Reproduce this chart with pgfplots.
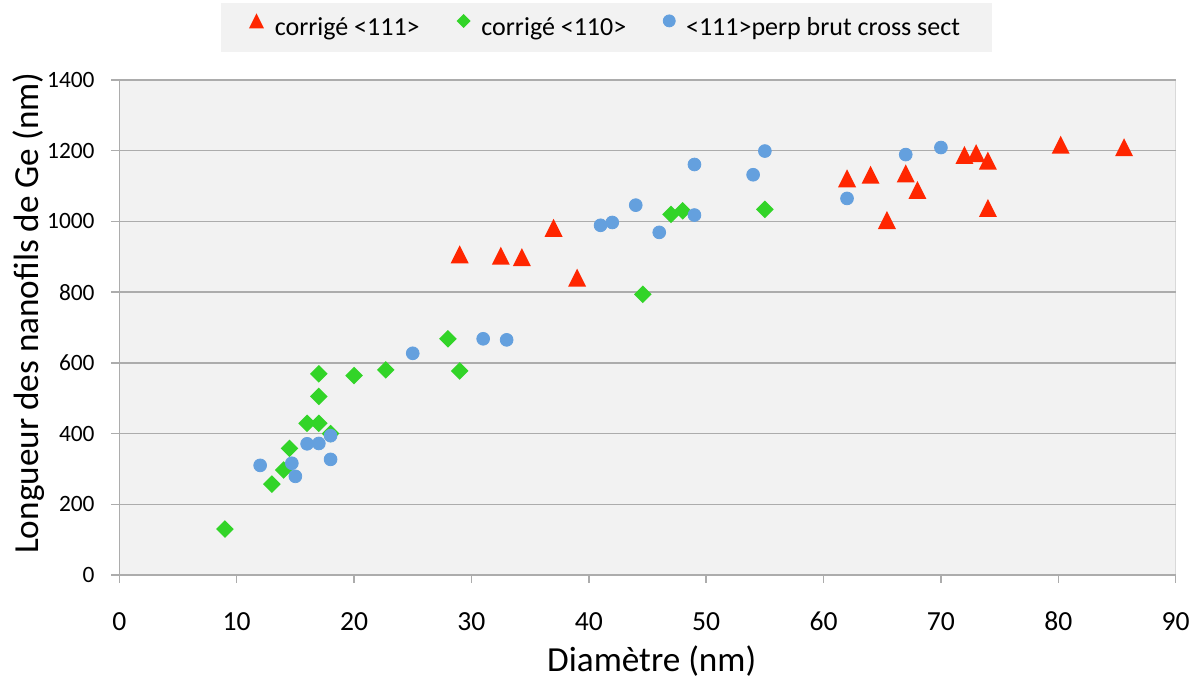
\documentclass[border=0pt]{standalone}
\usepackage{fontspec}
\setmainfont{Carlito}
\usepackage{pgfplots}
\pgfplotsset{compat=1.18}
\definecolor{plotbg}{RGB}{242,242,242}
\definecolor{gridc}{RGB}{172,172,172}
\definecolor{framec}{RGB}{217,217,217}
\definecolor{redm}{RGB}{255,38,0}
\definecolor{greenm}{RGB}{50,212,40}
\definecolor{bluem}{RGB}{100,160,222}
\pgfdeclareplotmark{xltri}{%
 \pgfpathmoveto{\pgfqpoint{0pt}{\pgfplotmarksize}}%
 \pgfpathlineto{\pgfqpoint{-\pgfplotmarksize}{-\pgfplotmarksize}}%
 \pgfpathlineto{\pgfqpoint{\pgfplotmarksize}{-\pgfplotmarksize}}%
 \pgfpathclose\pgfusepathqfill}
\pgfdeclareplotmark{xldia}{%
 \pgfpathmoveto{\pgfqpoint{0pt}{\pgfplotmarksize}}%
 \pgfpathlineto{\pgfqpoint{\pgfplotmarksize}{0pt}}%
 \pgfpathlineto{\pgfqpoint{0pt}{-\pgfplotmarksize}}%
 \pgfpathlineto{\pgfqpoint{-\pgfplotmarksize}{0pt}}%
 \pgfpathclose\pgfusepathqfill}
\begin{document}
\begin{tikzpicture}
\useasboundingbox (0,0) rectangle (600.5pt,339pt);
\begin{axis}[
  at={(59.65pt,51.5pt)}, anchor=south west,
  width=528.2pt, height=247.5pt, scale only axis,
  xmin=0, xmax=90, ymin=0, ymax=1400,
  xtick={0,10,...,90}, ytick={0,200,...,1400},
  axis background/.style={fill=plotbg, draw=framec, line width=0.75pt},
  axis x line*=bottom, axis y line*=left,
  axis line style={draw=gridc, line width=0.75pt, -},
  tick pos=left, tick align=outside, major tick length=4pt,
  tick style={draw=gridc, line width=0.75pt},
  ymajorgrids, grid style={draw=gridc, line width=0.75pt},
  /pgf/number format/assume math mode=true,
  /pgf/number format/1000 sep={},
  xticklabel style={font=\fontsize{13.8}{16}\selectfont, anchor=base, inner sep=0pt, yshift=-23.85pt},
  yticklabel style={font=\fontsize{11.7}{14}\selectfont, anchor=east, inner sep=0pt, xshift=-8.15pt},
  xlabel={Diamètre (nm)},
  ylabel={Longueur des nanofils de Ge (nm)},
  every axis x label/.style={at={(rel axis cs:0.504,0)}, anchor=base, yshift=-48.3pt, font=\fontsize{17.6}{20}\selectfont},
  every axis y label/.style={at={(rel axis cs:0,0.529)}, rotate=90, anchor=base, yshift=40.15pt, font=\fontsize{17.6}{20}\selectfont},
  legend columns=3,
  legend style={at={(rel axis cs:0.4612,1.1556)}, anchor=north, fill=plotbg, draw=none,
    font=\fontsize{13}{15}\selectfont, inner xsep=14pt, inner ysep=5pt,
    /tikz/every odd column/.append style={column sep=3.4pt},
    /tikz/every even column/.append style={column sep=16.5pt}},
  legend cell align=left,
]
\addplot[only marks, mark=xltri, mark size=4.5pt, color=redm, mark options={draw=none, fill=redm},
  legend image code/.code={\draw[only marks, mark=xltri, mark size=3.75pt, mark options={draw=none, fill=redm}] plot coordinates {(0pt,3.5pt)};}]
coordinates {(29,907) (32.5,903) (34.3,899) (37,982) (39,841) (62,1122) (64,1132) (65.4,1004) (67,1136) (68,1089) (72,1188) (73,1193) (74,1172) (74,1038) (80.2,1217) (85.6,1210)};
\addlegendentry{corrigé <111>}
\addplot[only marks, mark=xldia, mark size=4.4pt, color=greenm, mark options={draw=none, fill=greenm},
  legend image code/.code={\draw[only marks, mark=xldia, mark size=3.5pt, mark options={draw=none, fill=greenm}] plot coordinates {(0pt,3.5pt)};}]
coordinates {(9,130) (13,257) (14,297) (14.5,358) (16,429) (17,429) (18,400) (17,505) (17,569) (20,564) (22.7,580) (28,668) (29,577) (44.6,794) (47,1020) (48,1030) (55,1034)};
\addlegendentry{corrigé <110>}
\addplot[only marks, mark=*, mark size=3.2pt, color=bluem, mark options={draw=none, fill=bluem},
  legend image code/.code={\draw[only marks, mark=*, mark size=3pt, mark options={draw=none, fill=bluem}] plot coordinates {(0pt,3.5pt)};}]
coordinates {(12,310) (14.7,316) (15,279) (16,371) (17,372) (18,394) (18,327) (25,627) (31,668) (33,665) (41,989) (42,997) (44,1046) (46,969) (49,1018) (49,1161) (54,1132) (55,1199) (62,1065) (67,1189) (70,1209)};
\addlegendentry{<111>perp brut cross sect}
\end{axis}
\end{tikzpicture}
\end{document}
